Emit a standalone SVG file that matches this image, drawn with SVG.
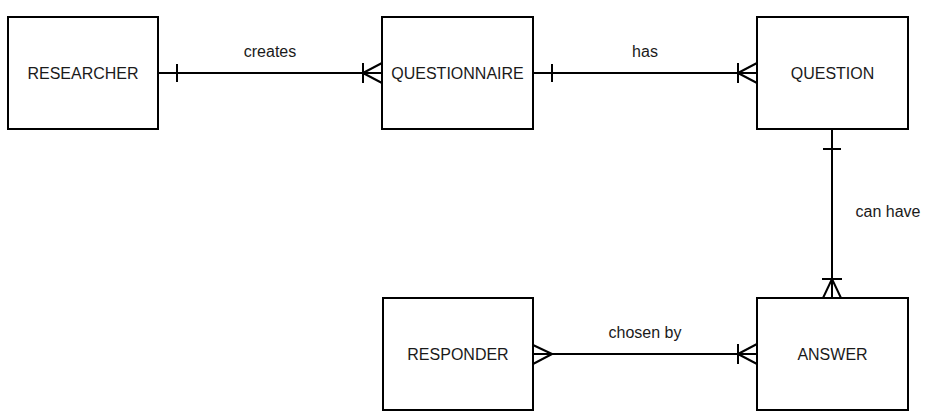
<svg xmlns="http://www.w3.org/2000/svg" width="930" height="419" viewBox="0 0 930 419">
<style>
.box{fill:#fff;stroke:#000;stroke-width:2}
.t{font-family:"Liberation Sans",Arial,sans-serif;font-size:16px;fill:#1a1a1a;text-anchor:middle;dominant-baseline:central}
.lbl{font-family:"Liberation Sans",Arial,sans-serif;font-size:16px;fill:#1a1a1a;text-anchor:middle}
.c{fill:none;stroke:#000;stroke-width:2}
</style>
<rect width="930" height="419" fill="#fff"/>
<g id="researcher"><rect class="box" x="8" y="17" width="150" height="112"/><text class="t" x="83" y="73">RESEARCHER</text></g>
<g id="questionnaire"><rect class="box" x="382" y="17" width="151" height="112"/><text class="t" x="457.5" y="73">QUESTIONNAIRE</text></g>
<g id="question"><rect class="box" x="757" y="17" width="151" height="112"/><text class="t" x="832.5" y="73">QUESTION</text></g>
<g id="responder"><rect class="box" x="383" y="298" width="150" height="112"/><text class="t" x="458" y="354">RESPONDER</text></g>
<g id="answer"><rect class="box" x="757" y="298" width="151" height="112"/><text class="t" x="832.5" y="354">ANSWER</text></g>
<g id="connectors">
<path class="c" d="M158 73H382 M177 64V82 M363 63V83 M363 73L382 63 M363 73L382 83"/>
<text class="lbl" x="270" y="57">creates</text>
<path class="c" d="M533 73H757 M552 64V82 M738 63V83 M738 73L757 63 M738 73L757 83"/>
<text class="lbl" x="645" y="57">has</text>
<path class="c" d="M832 129V298 M823 149H841 M822 279H842 M832 279L823 298 M832 279L841 298"/>
<text class="lbl" x="888" y="217">can have</text>
<path class="c" d="M533 354H757 M552 354L533 345 M552 354L533 364 M738 344V364 M738 354L757 344 M738 354L757 364"/>
<text class="lbl" x="645" y="338">chosen by</text>
</g>
</svg>
